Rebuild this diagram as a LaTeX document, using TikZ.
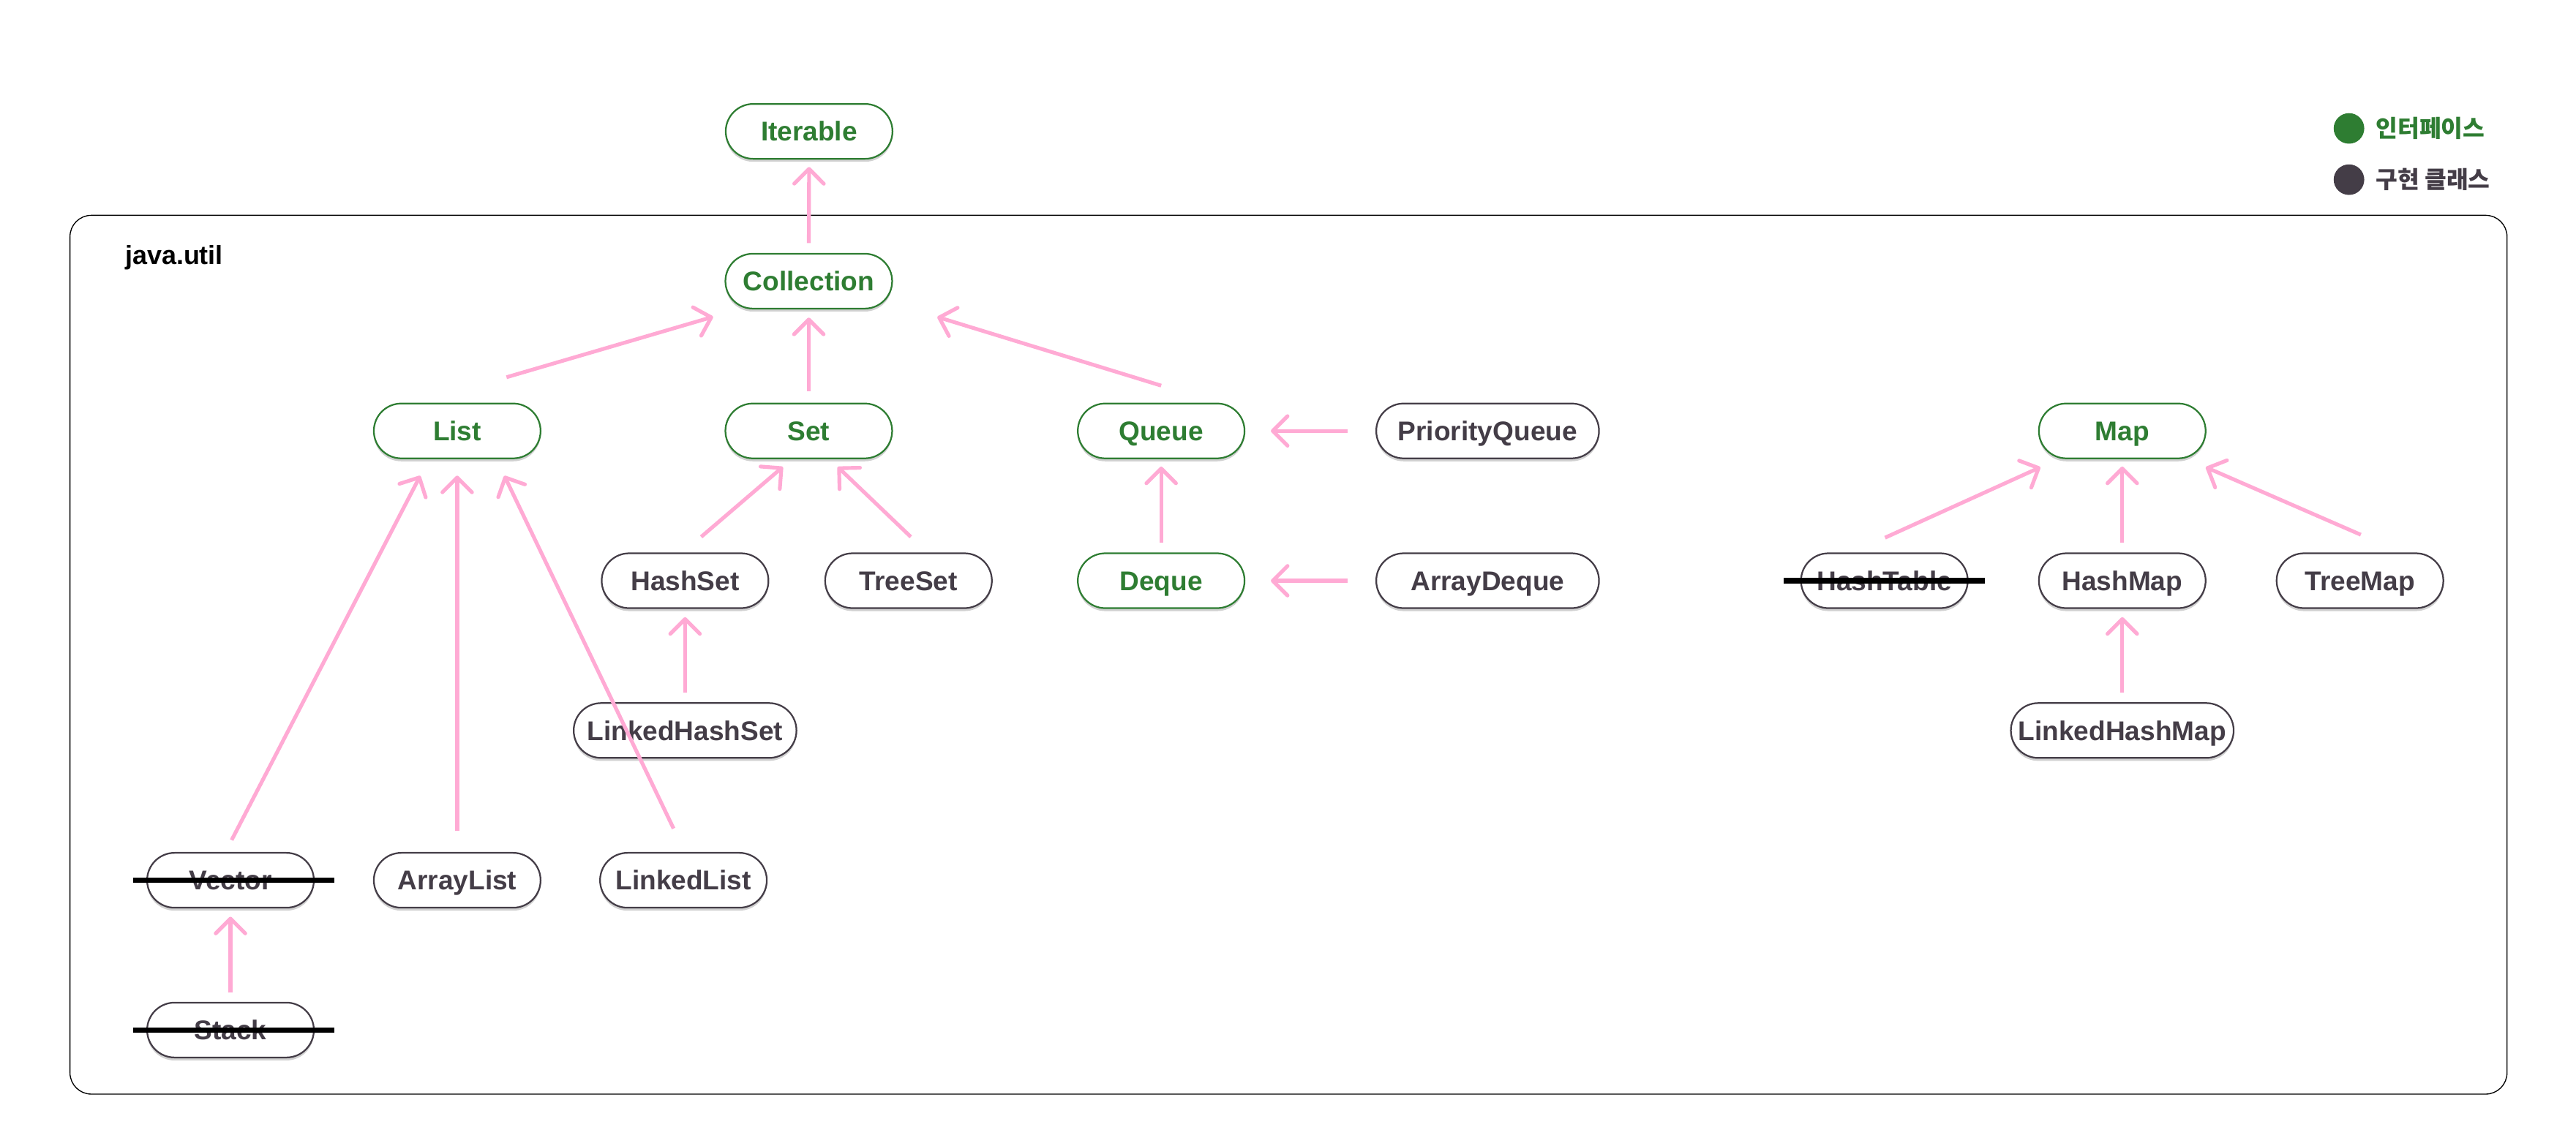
\documentclass[tikz,border=0pt]{standalone}
\usepackage{fontspec}
\setmainfont{Liberation Sans}
\newfontfamily\krfont{Noto Sans CJK KR}
\usepackage{xcolor}
\usepackage{tikz}
\usetikzlibrary{positioning,arrows.meta,shadows}
\definecolor{ifgreen}{RGB}{46,125,50}
\definecolor{impldark}{RGB}{68,61,71}
\definecolor{arrowpink}{RGB}{255,170,212}

\tikzset{
    iface/.style={draw=ifgreen,text=ifgreen,fill=white,line width=1pt,
        rounded corners=16.7pt,minimum width=101.5pt,minimum height=33.4pt,inner sep=0pt,
        text height=11.8pt,text depth=0pt,
        font=\bfseries\fontsize{16.5}{19}\selectfont,
        drop shadow={shadow xshift=0pt,shadow yshift=-1.8pt,opacity=0.18,fill=black}},
    impl/.style={iface,draw=impldark,text=impldark},
    wide/.style={minimum width=135.6pt},
    arr/.style={draw=arrowpink,line width=2.3pt,-{Straight Barb[length=9pt,width=18pt,round]}},
    strike/.style={draw=black,line width=3.4pt},
    legend/.style={anchor=west,inner sep=0pt,font=\krfont\bfseries\fontsize{14.4}{16}\selectfont},
}

\begin{document}
\begin{tikzpicture}[x=1pt,y=-1pt]
    \useasboundingbox (0,0) rectangle (1568,692.5);

    % Package frame
    \draw[line width=0.6pt,rounded corners=13pt] (42.6,131.1) rectangle (1526,666.2);
    \node[anchor=base west,inner sep=0pt,font=\bfseries\fontsize{16}{19}\selectfont] (pkg) at (76,160.8) {java.util};

    % Legend
    \node[circle,fill=ifgreen,minimum size=18.6pt,inner sep=0pt] (dotif) at (1429.8,78.2) {};
    \node[circle,fill=impldark,minimum size=18.6pt,inner sep=0pt] (dotimpl) at (1429.8,109.4) {};
    \node[legend,text=ifgreen,right=6.7pt of dotif] (txtif) {인터페이스};
    \node[legend,text=impldark,right=6.7pt of dotimpl] (txtimpl) {구현 클래스};

    % Collection side
    \node[iface] (iter) at (492.5,80) {Iterable};
    \node[iface] (coll) at (492.3,171.2) {Collection};
    \node[iface] (list) at (278.3,262.4) {List};
    \node[iface] (set) at (492.3,262.4) {Set};
    \node[iface] (queue) at (706.8,262.4) {Queue};
    \node[impl,wide] (pq) at (905.5,262.4) {PriorityQueue};
    \node[impl] (hset) at (417,353.6) {HashSet};
    \node[impl] (tset) at (553,353.6) {TreeSet};
    \node[iface] (deque) at (706.8,353.6) {Deque};
    \node[impl,wide] (adeque) at (905.5,353.6) {ArrayDeque};
    \node[impl,wide] (lhset) at (417,444.8) {LinkedHashSet};
    \node[impl] (vec) at (140.3,536) {Vector};
    \node[impl] (alist) at (278.3,536) {ArrayList};
    \node[impl] (llist) at (416,536) {LinkedList};
    \node[impl] (stack) at (140.3,627.2) {Stack};

    % Map side
    \node[iface] (map) at (1291.8,262.4) {Map};
    \node[impl] (htable) at (1147,353.6) {HashTable};
    \node[impl] (hmap) at (1291.8,353.6) {HashMap};
    \node[impl] (tmap) at (1436.5,353.6) {TreeMap};
    \node[impl,wide] (lhmap) at (1291.8,444.8) {LinkedHashMap};

    % Inheritance arrows
    \draw[arr,shorten <=6pt,shorten >=4.5pt] (coll.north) -- (iter.south);
    \draw[arr,shorten <=7pt,shorten >=5pt] (set.north) -- (coll.south);
    \draw[arr] ([shift={(30pt,15.5pt)}]list.north) -- ([shift={(-7pt,-4.5pt)}]coll.south west);
    \draw[arr] ([shift={(0pt,10.4pt)}]queue.north) -- ([shift={(27pt,-4.6pt)}]coll.south east);
    \draw[arr,shorten <=17pt,shorten >=15.5pt] (pq.west) -- (queue.east);
    \draw[arr,shorten <=17pt,shorten >=15.5pt] (adeque.west) -- (deque.east);
    \draw[arr,shorten <=6pt,shorten >=4.5pt] (deque.north) -- (queue.south);
    \draw[arr] ([shift={(9.8pt,9.5pt)}]hset.north) -- ([shift={(-15.8pt,-4.7pt)}]set.south);
    \draw[arr] ([shift={(1.4pt,9.5pt)}]tset.north) -- ([shift={(17.6pt,-4.7pt)}]set.south);
    \draw[arr,shorten <=6pt,shorten >=5pt] (lhset.north) -- (hset.south);
    \draw[arr] ([shift={(0.7pt,7.3pt)}]vec.north) -- ([shift={(-22.5pt,-10.1pt)}]list.south);
    \draw[arr,shorten <=13pt,shorten >=10pt] (alist.north) -- (list.south);
    \draw[arr] ([shift={(-6pt,14.3pt)}]llist.north) -- ([shift={(28.7pt,-10.1pt)}]list.south);
    \draw[arr,shorten <=5.5pt,shorten >=5pt] (stack.north) -- (vec.south);
    \draw[arr] ([shift={(0.4pt,9pt)}]htable.north) -- ([shift={(1.4pt,-4.9pt)}]map.south west);
    \draw[arr,shorten <=6pt,shorten >=4.5pt] (hmap.north) -- (map.south);
    \draw[arr] ([shift={(0.5pt,10.8pt)}]tmap.north) -- ([shift={(-0.4pt,-4.9pt)}]map.south east);
    \draw[arr,shorten <=6pt,shorten >=5pt] (lhmap.north) -- (hmap.south);

    % Deprecated classes
    \draw[strike] ([xshift=-8pt]vec.west) -- ([xshift=12pt]vec.east);
    \draw[strike] ([xshift=-8pt]stack.west) -- ([xshift=12pt]stack.east);
    \draw[strike] ([xshift=-10pt]htable.west) -- ([xshift=10pt]htable.east);
\end{tikzpicture}
\end{document}
